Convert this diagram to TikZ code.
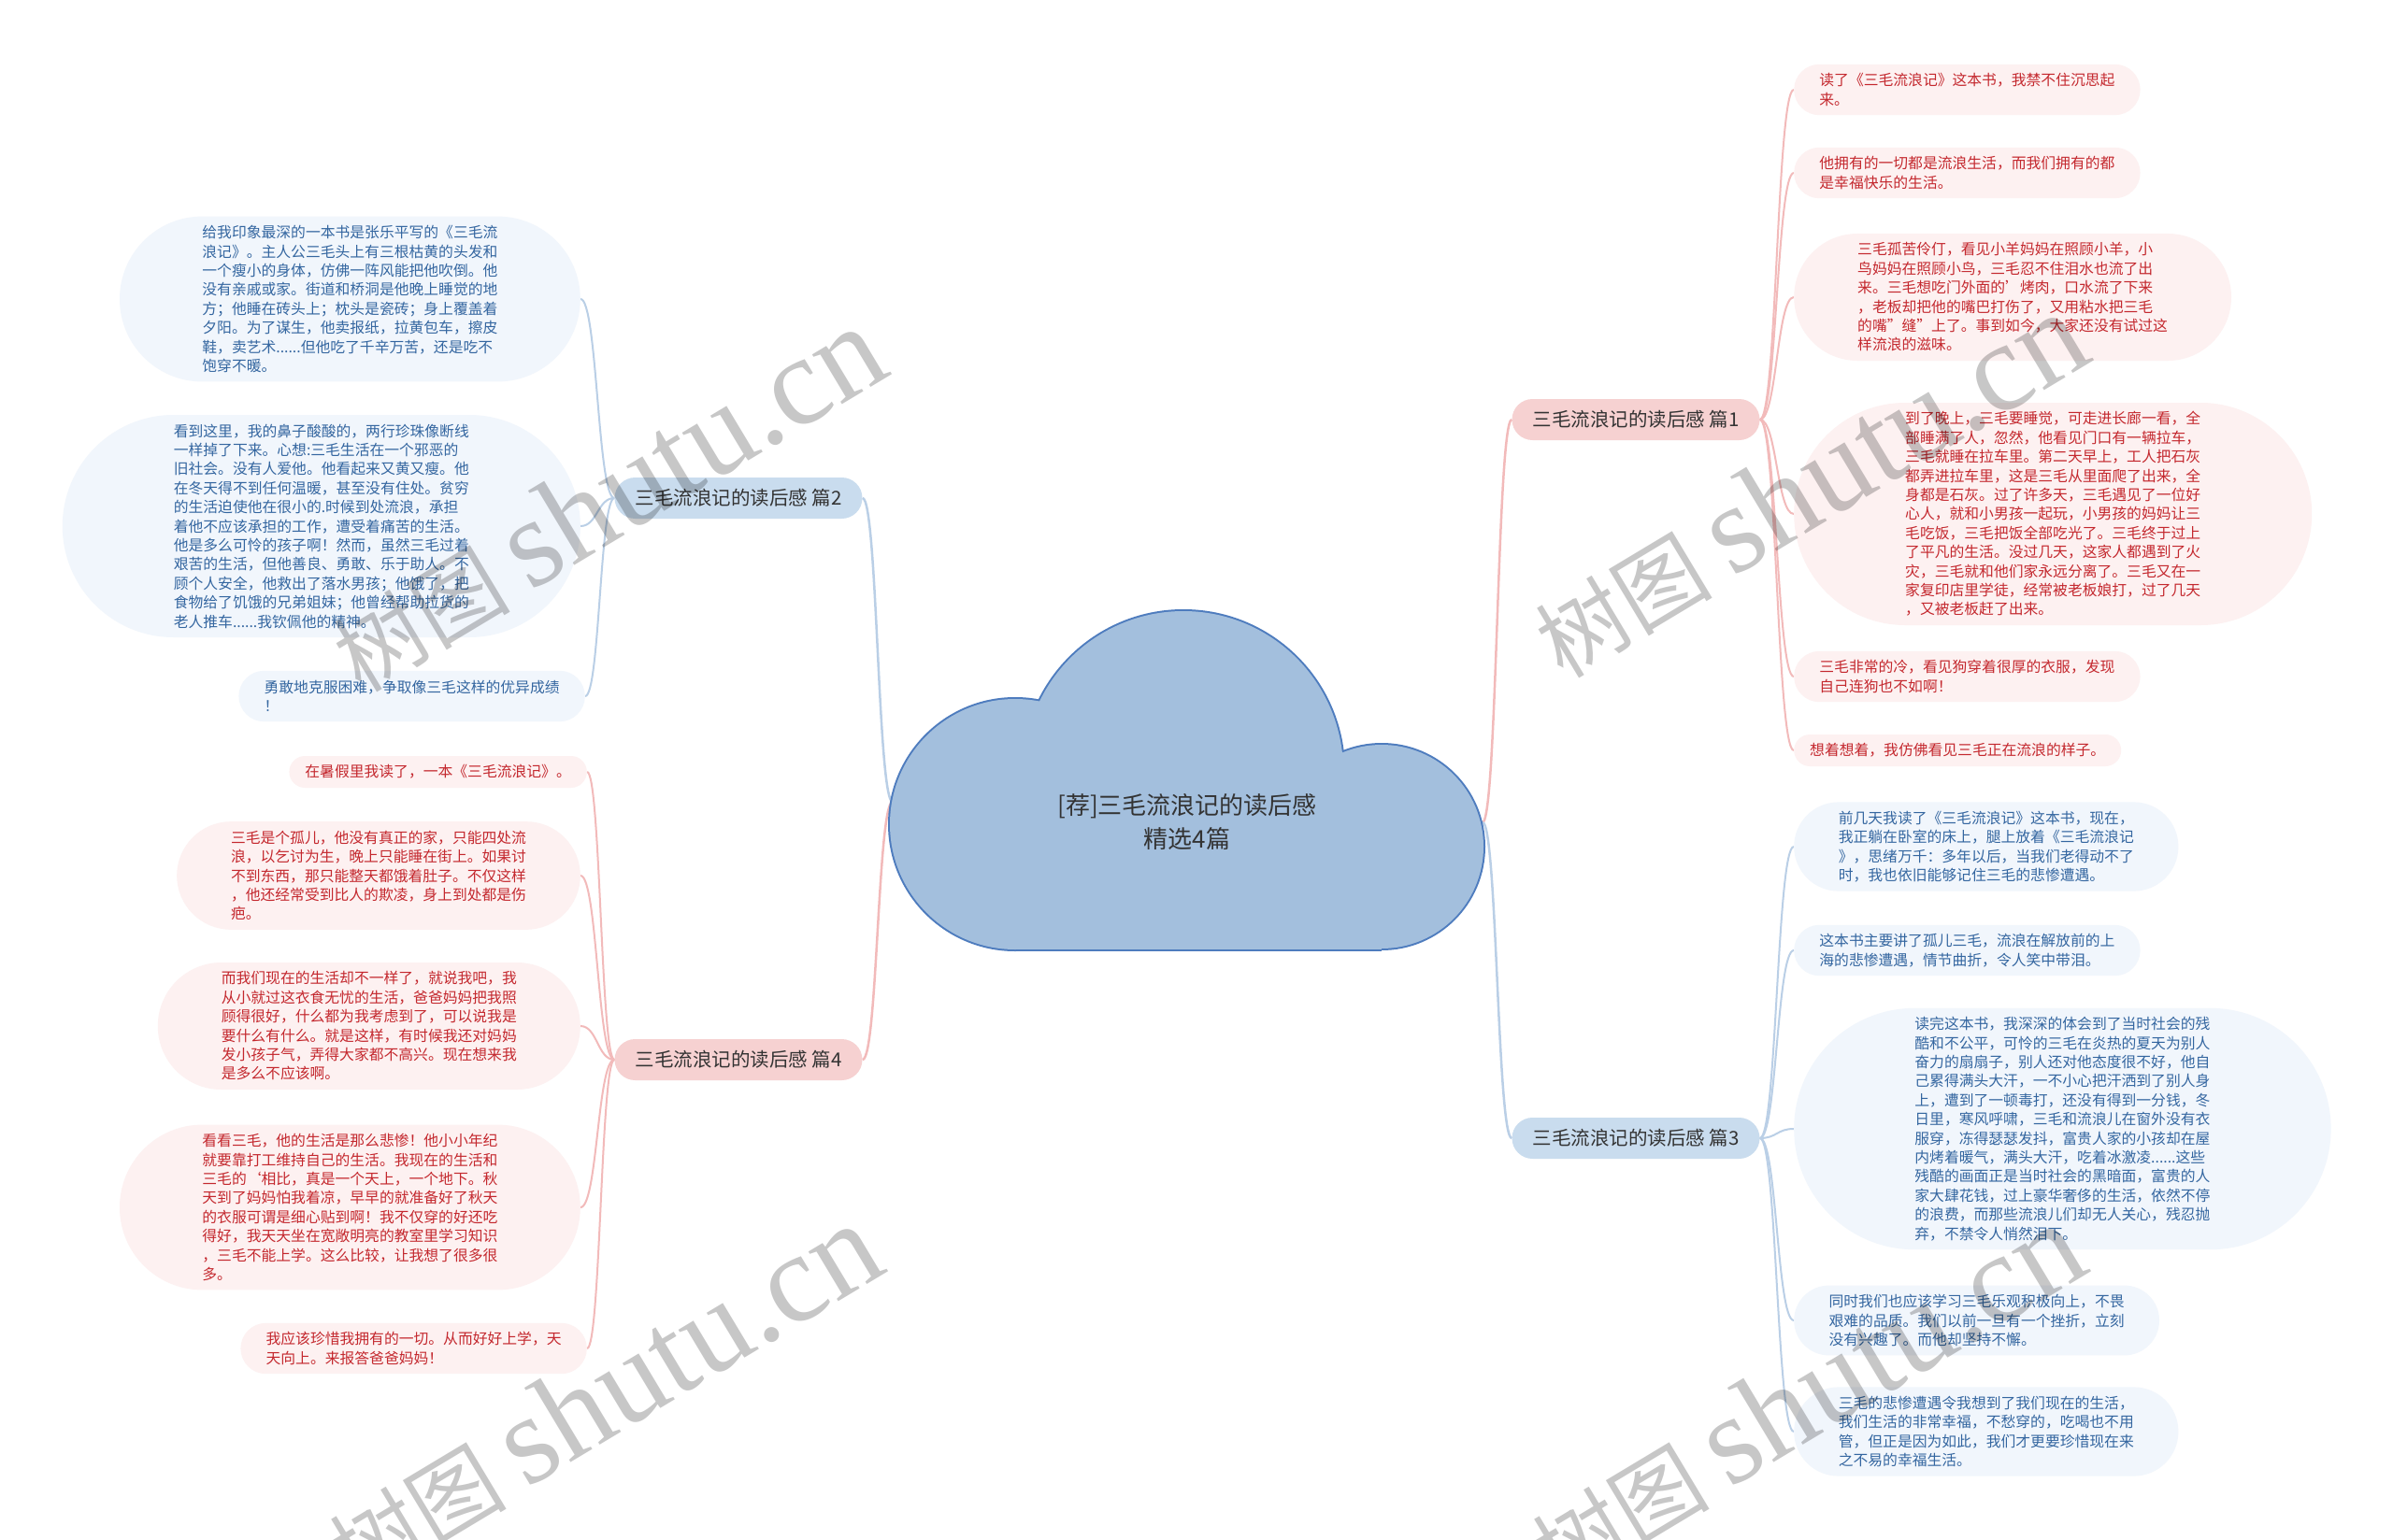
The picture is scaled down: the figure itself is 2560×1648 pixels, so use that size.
\documentclass[tikz,border=0pt]{standalone}
\usepackage{fontspec}
\setmainfont{Noto Sans CJK SC}
\newfontfamily\wmlatin{Liberation Serif}
\usetikzlibrary{calc}
\usetikzlibrary{backgrounds}
\definecolor{cloudfill}{RGB}{163,191,221}
\definecolor{cloudline}{RGB}{78,124,190}
\definecolor{pinktext}{RGB}{196,40,46}
\definecolor{bluetext}{RGB}{52,102,160}
\definecolor{pinkbg}{RGB}{253,241,241}
\definecolor{bluebg}{RGB}{241,246,252}
\definecolor{pinkhead}{RGB}{246,209,209}
\definecolor{bluehead}{RGB}{201,220,238}
\definecolor{pinkwire}{RGB}{242,186,186}
\definecolor{bluewire}{RGB}{186,207,230}

\begin{document}
\begin{tikzpicture}[x=1pt,y=-1pt,
  leaf/.style={rectangle,rounded corners=#1,inner xsep=#1,inner ysep=0pt,minimum height=2*#1,align=left,font=\fontsize{15.8}{20.4}\selectfont},
  pleaf/.style={leaf=#1,fill=pinkbg,text=pinktext},
  bleaf/.style={leaf=#1,fill=bluebg,text=bluetext},
  head/.style={rectangle,rounded corners=22pt,inner xsep=22pt,inner ysep=0pt,minimum height=44pt,text=black!80,font=\fontsize{20.5}{24}\selectfont},
  link/.style={line width=2pt,to path={let \p1=(\tikztostart),\p2=(\tikztotarget) in .. controls ({0.5*\x1+0.5*\x2},\y1) and ({0.5*\x1+0.5*\x2},\y2) .. (\tikztotarget)}},
  wmark/.style={rotate=31,text=black,text opacity=0.22,inner sep=0pt}]
\useasboundingbox (0,0) rectangle (2560,1648);

\fill[cloudline] (1086,882) circle[radius=136];
\fill[cloudline] (1266,825) circle[radius=173];
\fill[cloudline] (1478,906) circle[radius=111];
\fill[cloudline] (1086,918) rectangle (1478,1018);
\fill[cloudfill] (1086,882) circle[radius=134];
\fill[cloudfill] (1266,825) circle[radius=171];
\fill[cloudfill] (1478,906) circle[radius=109];
\fill[cloudfill] (1086,916) rectangle (1478,1016);
\node[align=center,text=black!80,font=\fontsize{26}{36}\selectfont] (c) at (1270,880) {[荐]三毛流浪记的读后感\\精选4篇};
\coordinate (cl) at (955,858);
\coordinate (cr) at (1586,880);

\node[head,fill=pinkhead] (b1) at (1750,449) {三毛流浪记的读后感 篇1};
\node[head,fill=bluehead] (b2) at (790,533) {三毛流浪记的读后感 篇2};
\node[head,fill=bluehead] (b3) at (1750,1218) {三毛流浪记的读后感 篇3};
\node[head,fill=pinkhead] (b4) at (790,1134) {三毛流浪记的读后感 篇4};

\node[pleaf=27.2pt,anchor=west] (l11) at (1919,96) {读了《三毛流浪记》这本书，我禁不住沉思起\\来。};
\node[pleaf=27.2pt,anchor=west] (l12) at (1919,185) {他拥有的一切都是流浪生活，而我们拥有的都\\是幸福快乐的生活。};
\node[pleaf=68pt,anchor=west] (l13) at (1919,318) {三毛孤苦伶仃，看见小羊妈妈在照顾小羊，小\\鸟妈妈在照顾小鸟，三毛忍不住泪水也流了出\\来。三毛想吃门外面的'烤肉，口水流了下来\\，老板却把他的嘴巴打伤了，又用粘水把三毛\\的嘴"缝"上了。事到如今，大家还没有试过这\\样流浪的滋味。};
\node[pleaf=119pt,anchor=west] (l14) at (1919,550) {到了晚上，三毛要睡觉，可走进长廊一看，全\\部睡满了人，忽然，他看见门口有一辆拉车，\\三毛就睡在拉车里。第二天早上，工人把石灰\\都弄进拉车里，这是三毛从里面爬了出来，全\\身都是石灰。过了许多天，三毛遇见了一位好\\心人，就和小男孩一起玩，小男孩的妈妈让三\\毛吃饭，三毛把饭全部吃光了。三毛终于过上\\了平凡的生活。没过几天，这家人都遇到了火\\灾，三毛就和他们家永远分离了。三毛又在一\\家复印店里学徒，经常被老板娘打，过了几天\\，又被老板赶了出来。};
\node[pleaf=27.2pt,anchor=west] (l15) at (1919,724) {三毛非常的冷，看见狗穿着很厚的衣服，发现\\自己连狗也不如啊！};
\node[pleaf=17pt,anchor=west] (l16) at (1919,803) {想着想着，我仿佛看见三毛正在流浪的样子。};

\node[bleaf=88.4pt,anchor=east] (l21) at (621,320) {给我印象最深的一本书是张乐平写的《三毛流\\浪记》。主人公三毛头上有三根枯黄的头发和\\一个瘦小的身体，仿佛一阵风能把他吹倒。他\\没有亲戚或家。街道和桥洞是他晚上睡觉的地\\方；他睡在砖头上；枕头是瓷砖；身上覆盖着\\夕阳。为了谋生，他卖报纸，拉黄包车，擦皮\\鞋，卖艺术......但他吃了千辛万苦，还是吃不\\饱穿不暖。};
\node[bleaf=119pt,anchor=east] (l22) at (621,563) {看到这里，我的鼻子酸酸的，两行珍珠像断线\\一样掉了下来。心想:三毛生活在一个邪恶的\\旧社会。没有人爱他。他看起来又黄又瘦。他\\在冬天得不到任何温暖，甚至没有住处。贫穷\\的生活迫使他在很小的.时候到处流浪，承担\\着他不应该承担的工作，遭受着痛苦的生活。\\他是多么可怜的孩子啊！然而，虽然三毛过着\\艰苦的生活，但他善良、勇敢、乐于助人。不\\顾个人安全，他救出了落水男孩；他饿了，把\\食物给了饥饿的兄弟姐妹；他曾经帮助拉货的\\老人推车......我钦佩他的精神。};
\node[bleaf=27.2pt,anchor=east] (l23) at (626,745) {勇敢地克服困难，争取像三毛这样的优异成绩\\！};

\node[bleaf=47.6pt,anchor=west] (l31) at (1919,906) {前几天我读了《三毛流浪记》这本书，现在，\\我正躺在卧室的床上，腿上放着《三毛流浪记\\》，思绪万千：多年以后，当我们老得动不了\\时，我也依旧能够记住三毛的悲惨遭遇。};
\node[bleaf=27.2pt,anchor=west] (l32) at (1919,1017) {这本书主要讲了孤儿三毛，流浪在解放前的上\\海的悲惨遭遇，情节曲折，令人笑中带泪。};
\node[bleaf=129.2pt,anchor=west] (l33) at (1919,1208) {读完这本书，我深深的体会到了当时社会的残\\酷和不公平，可怜的三毛在炎热的夏天为别人\\奋力的扇扇子，别人还对他态度很不好，他自\\己累得满头大汗，一不小心把汗洒到了别人身\\上，遭到了一顿毒打，还没有得到一分钱，冬\\日里，寒风呼啸，三毛和流浪儿在窗外没有衣\\服穿，冻得瑟瑟发抖，富贵人家的小孩却在屋\\内烤着暖气，满头大汗，吃着冰激凌......这些\\残酷的画面正是当时社会的黑暗面，富贵的人\\家大肆花钱，过上豪华奢侈的生活，依然不停\\的浪费，而那些流浪儿们却无人关心，残忍抛\\弃，不禁令人悄然泪下。};
\node[bleaf=37.4pt,anchor=west] (l34) at (1919,1413) {同时我们也应该学习三毛乐观积极向上，不畏\\艰难的品质。我们以前一旦有一个挫折，立刻\\没有兴趣了。而他却坚持不懈。};
\node[bleaf=47.6pt,anchor=west] (l35) at (1919,1532) {三毛的悲惨遭遇令我想到了我们现在的生活，\\我们生活的非常幸福，不愁穿的，吃喝也不用\\管，但正是因为如此，我们才更要珍惜现在来\\之不易的幸福生活。};

\node[pleaf=17pt,anchor=east] (l41) at (628,826) {在暑假里我读了，一本《三毛流浪记》。};
\node[pleaf=57.8pt,anchor=east] (l42) at (621,937) {三毛是个孤儿，他没有真正的家，只能四处流\\浪，以乞讨为生，晚上只能睡在街上。如果讨\\不到东西，那只能整天都饿着肚子。不仅这样\\，他还经常受到比人的欺凌，身上到处都是伤\\疤。};
\node[pleaf=68pt,anchor=east] (l43) at (621,1098) {而我们现在的生活却不一样了，就说我吧，我\\从小就过这衣食无忧的生活，爸爸妈妈把我照\\顾得很好，什么都为我考虑到了，可以说我是\\要什么有什么。就是这样，有时候我还对妈妈\\发小孩子气，弄得大家都不高兴。现在想来我\\是多么不应该啊。};
\node[pleaf=88.4pt,anchor=east] (l44) at (621,1292) {看看三毛，他的生活是那么悲惨！他小小年纪\\就要靠打工维持自己的生活。我现在的生活和\\三毛的`相比，真是一个天上，一个地下。秋\\天到了妈妈怕我着凉，早早的就准备好了秋天\\的衣服可谓是细心贴到啊！我不仅穿的好还吃\\得好，我天天坐在宽敞明亮的教室里学习知识\\，三毛不能上学。这么比较，让我想了很多很\\多。};
\node[pleaf=27.2pt,anchor=east] (l45) at (628,1443) {我应该珍惜我拥有的一切。从而好好上学，天\\天向上。来报答爸爸妈妈！};

\begin{pgfonlayer}{background}
\fill[white] (0,0) rectangle (2560,1648);
\draw[link,pinkwire,line width=2.5pt] (cr) to (b1.west);
\draw[link,bluewire,line width=2.5pt] (cl) to (b2.east);
\draw[link,bluewire,line width=2.5pt] (cr) to (b3.west);
\draw[link,pinkwire,line width=2.5pt] (cl) to (b4.east);
\foreach \k in {1,...,6} \draw[link,pinkwire] (b1.east) to (l1\k.west);
\foreach \k in {1,...,3} \draw[link,bluewire] (b2.west) to (l2\k.east);
\foreach \k in {1,...,5} \draw[link,bluewire] (b3.east) to (l3\k.west);
\foreach \k in {1,...,5} \draw[link,pinkwire] (b4.west) to (l4\k.east);
\end{pgfonlayer}

\node[wmark] (w1) at (649,534) {\fontsize{95}{95}\selectfont 树图 {\wmlatin\fontsize{135}{135}\selectfont shutu.cn}};
\node[wmark] (w2) at (1935,519) {\fontsize{95}{95}\selectfont 树图 {\wmlatin\fontsize{135}{135}\selectfont shutu.cn}};
\node[wmark] (w3) at (645,1494) {\fontsize{95}{95}\selectfont 树图 {\wmlatin\fontsize{135}{135}\selectfont shutu.cn}};
\node[wmark] (w4) at (1932,1494) {\fontsize{95}{95}\selectfont 树图 {\wmlatin\fontsize{135}{135}\selectfont shutu.cn}};
\end{tikzpicture}
\end{document}
